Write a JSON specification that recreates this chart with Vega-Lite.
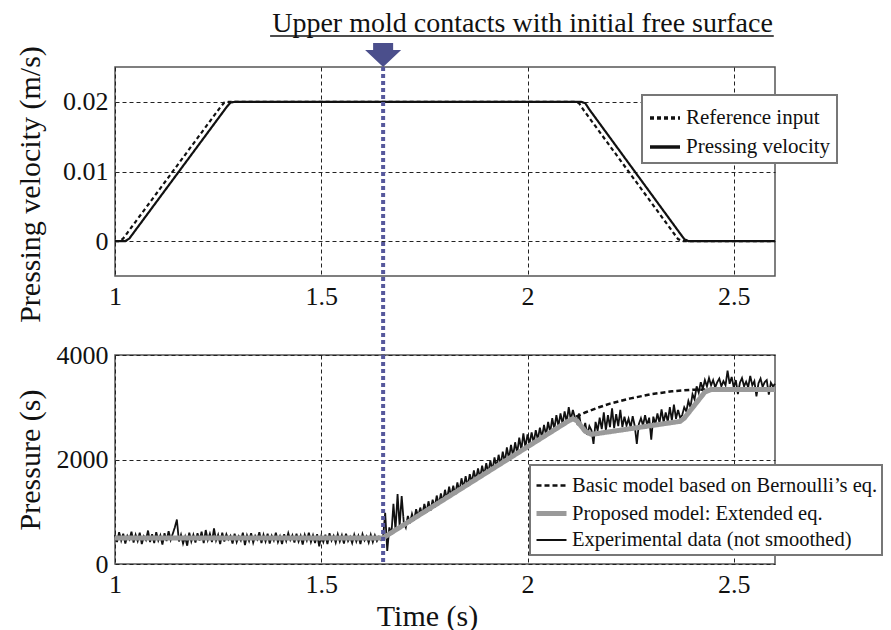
{
"$schema": "https://vega.github.io/schema/vega-lite/v6.json",
"background": "white",
"padding": {"left": 14, "top": 9, "right": 0, "bottom": 0},
"bounds": "flush",
"spacing": 79,
"config": {
  "font": "Liberation Serif",
  "view": {"stroke": "#555", "strokeWidth": 1.5},
  "axis": {"labelFont": "Liberation Serif", "labelFontSize": 26, "labelColor": "#111", "titleFont": "Liberation Serif", "titleFontSize": 30, "titleFontWeight": "normal", "titleColor": "#111", "domain": false, "ticks": false, "grid": true, "gridColor": "#222", "gridDash": [4, 3], "gridWidth": 1, "gridOpacity": 1, "labelPadding": 7, "labelFlush": false, "labelOverlap": false},
  "legend": {"labelFont": "Liberation Serif", "labelColor": "#111", "labelLimit": 0, "strokeColor": "#777", "strokeWidth": 2, "fillColor": "white"}
},
"datasets": {
  "vel": [
    {"s": "Reference input", "t": 1.0, "v": 0}, {"s": "Reference input", "t": 1.012, "v": 0}, {"s": "Reference input", "t": 1.02, "v": 0.0004}, {"s": "Reference input", "t": 1.03, "v": 0.0012}, {"s": "Reference input", "t": 1.255, "v": 0.0192}, {"s": "Reference input", "t": 1.265, "v": 0.0199}, {"s": "Reference input", "t": 1.275, "v": 0.02}, {"s": "Reference input", "t": 2.115, "v": 0.02}, {"s": "Reference input", "t": 2.125, "v": 0.0198}, {"s": "Reference input", "t": 2.135, "v": 0.0189}, {"s": "Reference input", "t": 2.355, "v": 0.0011}, {"s": "Reference input", "t": 2.365, "v": 0.0003}, {"s": "Reference input", "t": 2.375, "v": 0}, {"s": "Reference input", "t": 2.6, "v": 0},
    {"s": "Pressing velocity", "t": 1.0, "v": 0}, {"s": "Pressing velocity", "t": 1.025, "v": 0}, {"s": "Pressing velocity", "t": 1.035, "v": 0.0004}, {"s": "Pressing velocity", "t": 1.045, "v": 0.0012}, {"s": "Pressing velocity", "t": 1.27, "v": 0.0192}, {"s": "Pressing velocity", "t": 1.28, "v": 0.0199}, {"s": "Pressing velocity", "t": 1.29, "v": 0.02}, {"s": "Pressing velocity", "t": 2.13, "v": 0.02}, {"s": "Pressing velocity", "t": 2.14, "v": 0.0198}, {"s": "Pressing velocity", "t": 2.15, "v": 0.0189}, {"s": "Pressing velocity", "t": 2.37, "v": 0.0011}, {"s": "Pressing velocity", "t": 2.38, "v": 0.0003}, {"s": "Pressing velocity", "t": 2.39, "v": 0}, {"s": "Pressing velocity", "t": 2.6, "v": 0}
  ],
  "models": [
    {"m": "p", "t": 1.0, "p": 500}, {"m": "p", "t": 1.65, "p": 500}, {"m": "p", "t": 2.1, "p": 2740}, {"m": "p", "t": 2.11, "p": 2780}, {"m": "p", "t": 2.12, "p": 2740}, {"m": "p", "t": 2.14, "p": 2540}, {"m": "p", "t": 2.155, "p": 2480}, {"m": "p", "t": 2.37, "p": 2730}, {"m": "p", "t": 2.38, "p": 2790}, {"m": "p", "t": 2.43, "p": 3290}, {"m": "p", "t": 2.445, "p": 3340}, {"m": "p", "t": 2.6, "p": 3340},
    {"m": "b", "t": 1.0, "p": 500}, {"m": "b", "t": 1.65, "p": 500}, {"m": "b", "t": 2.11, "p": 2790}, {"m": "b", "t": 2.14, "p": 2900}, {"m": "b", "t": 2.17, "p": 2990}, {"m": "b", "t": 2.2, "p": 3070}, {"m": "b", "t": 2.25, "p": 3170}, {"m": "b", "t": 2.3, "p": 3250}, {"m": "b", "t": 2.35, "p": 3305}, {"m": "b", "t": 2.4, "p": 3335}, {"m": "b", "t": 2.45, "p": 3340}, {"m": "b", "t": 2.6, "p": 3340}
  ],
  "notes": [{"t": 1.65}],
  "exp": [
    {"m":"e","t":1.000,"p":560},{"m":"e","t":1.005,"p":420},{"m":"e","t":1.010,"p":610},{"m":"e","t":1.015,"p":450},{"m":"e","t":1.020,"p":580},{"m":"e","t":1.025,"p":390},{"m":"e","t":1.030,"p":540},{"m":"e","t":1.035,"p":470},{"m":"e","t":1.040,"p":620},{"m":"e","t":1.045,"p":410},
    {"m":"e","t":1.050,"p":560},{"m":"e","t":1.055,"p":440},{"m":"e","t":1.060,"p":600},{"m":"e","t":1.065,"p":380},{"m":"e","t":1.070,"p":530},{"m":"e","t":1.075,"p":460},{"m":"e","t":1.080,"p":640},{"m":"e","t":1.085,"p":420},{"m":"e","t":1.090,"p":570},{"m":"e","t":1.095,"p":400},
    {"m":"e","t":1.100,"p":610},{"m":"e","t":1.105,"p":450},{"m":"e","t":1.110,"p":550},{"m":"e","t":1.115,"p":370},{"m":"e","t":1.120,"p":590},{"m":"e","t":1.125,"p":440},{"m":"e","t":1.130,"p":630},{"m":"e","t":1.135,"p":460},{"m":"e","t":1.140,"p":580},{"m":"e","t":1.145,"p":700},
    {"m":"e","t":1.150,"p":850},{"m":"e","t":1.155,"p":430},{"m":"e","t":1.160,"p":560},{"m":"e","t":1.165,"p":390},{"m":"e","t":1.170,"p":520},{"m":"e","t":1.175,"p":350},{"m":"e","t":1.180,"p":600},{"m":"e","t":1.185,"p":430},{"m":"e","t":1.190,"p":560},{"m":"e","t":1.195,"p":410},
    {"m":"e","t":1.200,"p":590},{"m":"e","t":1.205,"p":450},{"m":"e","t":1.210,"p":620},{"m":"e","t":1.215,"p":400},{"m":"e","t":1.220,"p":650},{"m":"e","t":1.225,"p":460},{"m":"e","t":1.230,"p":580},{"m":"e","t":1.235,"p":420},{"m":"e","t":1.240,"p":680},{"m":"e","t":1.245,"p":450},
    {"m":"e","t":1.250,"p":560},{"m":"e","t":1.255,"p":380},{"m":"e","t":1.260,"p":600},{"m":"e","t":1.265,"p":430},{"m":"e","t":1.270,"p":570},{"m":"e","t":1.275,"p":470},{"m":"e","t":1.280,"p":540},{"m":"e","t":1.285,"p":390},{"m":"e","t":1.290,"p":580},{"m":"e","t":1.295,"p":420},
    {"m":"e","t":1.300,"p":530},{"m":"e","t":1.305,"p":450},{"m":"e","t":1.310,"p":600},{"m":"e","t":1.315,"p":360},{"m":"e","t":1.320,"p":550},{"m":"e","t":1.325,"p":440},{"m":"e","t":1.330,"p":590},{"m":"e","t":1.335,"p":410},{"m":"e","t":1.340,"p":540},{"m":"e","t":1.345,"p":470},
    {"m":"e","t":1.350,"p":610},{"m":"e","t":1.355,"p":400},{"m":"e","t":1.360,"p":560},{"m":"e","t":1.365,"p":430},{"m":"e","t":1.370,"p":580},{"m":"e","t":1.375,"p":390},{"m":"e","t":1.380,"p":540},{"m":"e","t":1.385,"p":450},{"m":"e","t":1.390,"p":600},{"m":"e","t":1.395,"p":420},
    {"m":"e","t":1.400,"p":530},{"m":"e","t":1.405,"p":380},{"m":"e","t":1.410,"p":570},{"m":"e","t":1.415,"p":440},{"m":"e","t":1.420,"p":590},{"m":"e","t":1.425,"p":460},{"m":"e","t":1.430,"p":550},{"m":"e","t":1.435,"p":410},{"m":"e","t":1.440,"p":580},{"m":"e","t":1.445,"p":430},
    {"m":"e","t":1.450,"p":540},{"m":"e","t":1.455,"p":370},{"m":"e","t":1.460,"p":560},{"m":"e","t":1.465,"p":450},{"m":"e","t":1.470,"p":600},{"m":"e","t":1.475,"p":420},{"m":"e","t":1.480,"p":550},{"m":"e","t":1.485,"p":400},{"m":"e","t":1.490,"p":570},{"m":"e","t":1.495,"p":340},
    {"m":"e","t":1.500,"p":530},{"m":"e","t":1.505,"p":420},{"m":"e","t":1.510,"p":560},{"m":"e","t":1.515,"p":380},{"m":"e","t":1.520,"p":590},{"m":"e","t":1.525,"p":450},{"m":"e","t":1.530,"p":540},{"m":"e","t":1.535,"p":410},{"m":"e","t":1.540,"p":570},{"m":"e","t":1.545,"p":430},
    {"m":"e","t":1.550,"p":550},{"m":"e","t":1.555,"p":390},{"m":"e","t":1.560,"p":580},{"m":"e","t":1.565,"p":440},{"m":"e","t":1.570,"p":520},{"m":"e","t":1.575,"p":400},{"m":"e","t":1.580,"p":560},{"m":"e","t":1.585,"p":430},{"m":"e","t":1.590,"p":540},{"m":"e","t":1.595,"p":380},
    {"m":"e","t":1.600,"p":570},{"m":"e","t":1.605,"p":450},{"m":"e","t":1.610,"p":530},{"m":"e","t":1.615,"p":410},{"m":"e","t":1.620,"p":560},{"m":"e","t":1.625,"p":420},{"m":"e","t":1.630,"p":550},{"m":"e","t":1.635,"p":440},{"m":"e","t":1.640,"p":520},{"m":"e","t":1.645,"p":460},
    {"m":"e","t":1.650,"p":520},{"m":"e","t":1.655,"p":980},{"m":"e","t":1.660,"p":250},{"m":"e","t":1.665,"p":700},{"m":"e","t":1.670,"p":560},{"m":"e","t":1.675,"p":1150},{"m":"e","t":1.680,"p":650},{"m":"e","t":1.685,"p":1340},{"m":"e","t":1.690,"p":720},{"m":"e","t":1.695,"p":1300},
    {"m":"e","t":1.700,"p":800},{"m":"e","t":1.705,"p":700},{"m":"e","t":1.710,"p":920},{"m":"e","t":1.715,"p":780},{"m":"e","t":1.720,"p":960},{"m":"e","t":1.725,"p":830},{"m":"e","t":1.730,"p":1050},{"m":"e","t":1.735,"p":900},{"m":"e","t":1.740,"p":1080},{"m":"e","t":1.745,"p":940},
    {"m":"e","t":1.750,"p":1150},{"m":"e","t":1.755,"p":980},{"m":"e","t":1.760,"p":1200},{"m":"e","t":1.765,"p":1020},{"m":"e","t":1.770,"p":1230},{"m":"e","t":1.775,"p":1080},{"m":"e","t":1.780,"p":1310},{"m":"e","t":1.785,"p":1130},{"m":"e","t":1.790,"p":1350},{"m":"e","t":1.795,"p":1190},
    {"m":"e","t":1.800,"p":1420},{"m":"e","t":1.805,"p":1240},{"m":"e","t":1.810,"p":1480},{"m":"e","t":1.815,"p":1290},{"m":"e","t":1.820,"p":1500},{"m":"e","t":1.825,"p":1330},{"m":"e","t":1.830,"p":1560},{"m":"e","t":1.835,"p":1390},{"m":"e","t":1.840,"p":1640},{"m":"e","t":1.845,"p":1460},
    {"m":"e","t":1.850,"p":1680},{"m":"e","t":1.855,"p":1480},{"m":"e","t":1.860,"p":1720},{"m":"e","t":1.865,"p":1560},{"m":"e","t":1.870,"p":1790},{"m":"e","t":1.875,"p":1600},{"m":"e","t":1.880,"p":1830},{"m":"e","t":1.885,"p":1650},{"m":"e","t":1.890,"p":1880},{"m":"e","t":1.895,"p":1700},
    {"m":"e","t":1.900,"p":1930},{"m":"e","t":1.905,"p":1740},{"m":"e","t":1.910,"p":1980},{"m":"e","t":1.915,"p":1790},{"m":"e","t":1.920,"p":2040},{"m":"e","t":1.925,"p":1850},{"m":"e","t":1.930,"p":2090},{"m":"e","t":1.935,"p":1900},{"m":"e","t":1.940,"p":2150},{"m":"e","t":1.945,"p":1950},
    {"m":"e","t":1.950,"p":2230},{"m":"e","t":1.955,"p":2010},{"m":"e","t":1.960,"p":2280},{"m":"e","t":1.965,"p":2060},{"m":"e","t":1.970,"p":2330},{"m":"e","t":1.975,"p":2120},{"m":"e","t":1.980,"p":2420},{"m":"e","t":1.985,"p":2180},{"m":"e","t":1.990,"p":2500},{"m":"e","t":1.995,"p":2230},
    {"m":"e","t":2.000,"p":2480},{"m":"e","t":2.005,"p":2300},{"m":"e","t":2.010,"p":2520},{"m":"e","t":2.015,"p":2320},{"m":"e","t":2.020,"p":2560},{"m":"e","t":2.025,"p":2380},{"m":"e","t":2.030,"p":2610},{"m":"e","t":2.035,"p":2420},{"m":"e","t":2.040,"p":2660},{"m":"e","t":2.045,"p":2470},
    {"m":"e","t":2.050,"p":2720},{"m":"e","t":2.055,"p":2520},{"m":"e","t":2.060,"p":2790},{"m":"e","t":2.065,"p":2580},{"m":"e","t":2.070,"p":2850},{"m":"e","t":2.075,"p":2640},{"m":"e","t":2.080,"p":2880},{"m":"e","t":2.085,"p":2680},{"m":"e","t":2.090,"p":2920},{"m":"e","t":2.095,"p":2720},
    {"m":"e","t":2.100,"p":3000},{"m":"e","t":2.105,"p":2760},{"m":"e","t":2.110,"p":2950},{"m":"e","t":2.115,"p":2800},{"m":"e","t":2.120,"p":2700},{"m":"e","t":2.125,"p":2880},{"m":"e","t":2.130,"p":2620},{"m":"e","t":2.135,"p":2560},{"m":"e","t":2.140,"p":2700},{"m":"e","t":2.145,"p":2470},
    {"m":"e","t":2.150,"p":2640},{"m":"e","t":2.155,"p":2560},{"m":"e","t":2.160,"p":2300},{"m":"e","t":2.165,"p":2720},{"m":"e","t":2.170,"p":2550},{"m":"e","t":2.175,"p":2800},{"m":"e","t":2.180,"p":2580},{"m":"e","t":2.185,"p":2900},{"m":"e","t":2.190,"p":2560},{"m":"e","t":2.195,"p":2850},
    {"m":"e","t":2.200,"p":2620},{"m":"e","t":2.205,"p":2980},{"m":"e","t":2.210,"p":2600},{"m":"e","t":2.215,"p":2870},{"m":"e","t":2.220,"p":2640},{"m":"e","t":2.225,"p":2950},{"m":"e","t":2.230,"p":2620},{"m":"e","t":2.235,"p":2820},{"m":"e","t":2.240,"p":2650},{"m":"e","t":2.245,"p":2780},
    {"m":"e","t":2.250,"p":2610},{"m":"e","t":2.255,"p":2830},{"m":"e","t":2.260,"p":2640},{"m":"e","t":2.265,"p":2300},{"m":"e","t":2.270,"p":2680},{"m":"e","t":2.275,"p":2790},{"m":"e","t":2.280,"p":2650},{"m":"e","t":2.285,"p":2850},{"m":"e","t":2.290,"p":2660},{"m":"e","t":2.295,"p":2800},
    {"m":"e","t":2.300,"p":2380},{"m":"e","t":2.305,"p":2820},{"m":"e","t":2.310,"p":2680},{"m":"e","t":2.315,"p":2880},{"m":"e","t":2.320,"p":2700},{"m":"e","t":2.325,"p":2960},{"m":"e","t":2.330,"p":2710},{"m":"e","t":2.335,"p":2900},{"m":"e","t":2.340,"p":2720},{"m":"e","t":2.345,"p":3000},
    {"m":"e","t":2.350,"p":2750},{"m":"e","t":2.355,"p":3050},{"m":"e","t":2.360,"p":2780},{"m":"e","t":2.365,"p":2950},{"m":"e","t":2.370,"p":2800},{"m":"e","t":2.375,"p":2850},{"m":"e","t":2.380,"p":3000},{"m":"e","t":2.385,"p":2920},{"m":"e","t":2.390,"p":3120},{"m":"e","t":2.395,"p":3000},
    {"m":"e","t":2.400,"p":3250},{"m":"e","t":2.405,"p":3150},{"m":"e","t":2.410,"p":3400},{"m":"e","t":2.415,"p":3280},{"m":"e","t":2.420,"p":3480},{"m":"e","t":2.425,"p":3350},{"m":"e","t":2.430,"p":3520},{"m":"e","t":2.435,"p":3400},{"m":"e","t":2.440,"p":3560},{"m":"e","t":2.445,"p":3420},
    {"m":"e","t":2.450,"p":3520},{"m":"e","t":2.455,"p":3380},{"m":"e","t":2.460,"p":3480},{"m":"e","t":2.465,"p":3550},{"m":"e","t":2.470,"p":3400},{"m":"e","t":2.475,"p":3500},{"m":"e","t":2.480,"p":3420},{"m":"e","t":2.485,"p":3700},{"m":"e","t":2.490,"p":3450},{"m":"e","t":2.495,"p":3580},
    {"m":"e","t":2.500,"p":3380},{"m":"e","t":2.505,"p":3520},{"m":"e","t":2.510,"p":3250},{"m":"e","t":2.515,"p":3470},{"m":"e","t":2.520,"p":3560},{"m":"e","t":2.525,"p":3400},{"m":"e","t":2.530,"p":3490},{"m":"e","t":2.535,"p":3380},{"m":"e","t":2.540,"p":3600},{"m":"e","t":2.545,"p":3420},
    {"m":"e","t":2.550,"p":3500},{"m":"e","t":2.555,"p":3210},{"m":"e","t":2.560,"p":3460},{"m":"e","t":2.565,"p":3550},{"m":"e","t":2.570,"p":3390},{"m":"e","t":2.575,"p":3480},{"m":"e","t":2.580,"p":3520},{"m":"e","t":2.585,"p":3240},{"m":"e","t":2.590,"p":3470},{"m":"e","t":2.595,"p":3400},
    {"m":"e","t":2.600,"p":3450}
  ]
},
"vconcat": [
  {
    "width": 660, "height": 209,
    "layer": [
      {
        "data": {"name": "vel"},
        "mark": {"type": "line", "color": "#111", "strokeWidth": 2.2},
        "encoding": {
          "x": {"field": "t", "type": "quantitative", "scale": {"domain": [1, 2.6], "nice": false}, "axis": {"values": [1, 1.5, 2, 2.5], "format": "~g", "title": null}},
          "y": {"field": "v", "type": "quantitative", "scale": {"domain": [-0.005, 0.025], "nice": false, "zero": false}, "axis": {"values": [0, 0.01, 0.02], "format": "~g", "title": "Pressing velocity (m/s)", "titleX": -85, "titleY": 117, "titleBaseline": "middle"}},
          "strokeDash": {"field": "s", "type": "nominal", "scale": {"domain": ["Reference input", "Pressing velocity"], "range": [[4, 3], [1, 0]]},
            "legend": {"title": null, "orient": "none", "legendX": 527, "legendY": 28, "labelFontSize": 21, "symbolType": "stroke", "symbolSize": 900, "symbolStrokeWidth": 3.5, "symbolStrokeColor": "#111", "padding": 6, "rowPadding": 2, "labelOffset": 4}}
        }
      },
      {
        "data": {"name": "notes"},
        "mark": {"type": "rule", "color": "#56589c", "strokeWidth": 4, "strokeDash": [4, 3]},
        "encoding": {"x": {"field": "t", "type": "quantitative", "scale": {"domain": [1, 2.6], "nice": false}}, "y": {"datum": 0.025, "scale": {"domain": [-0.005, 0.025], "nice": false, "zero": false}}, "y2": {"datum": -0.0163}}
      },
      {
        "data": {"name": "notes"},
        "mark": {"type": "point", "shape": "M-0.556,-0.667L0.556,-0.667L0.556,-0.278L1,-0.278L0,0.667L-1,-0.278L-0.556,-0.278Z", "filled": true, "color": "#4b4f8c", "opacity": 1, "size": 1296, "strokeWidth": 0},
        "encoding": {"x": {"field": "t", "type": "quantitative", "scale": {"domain": [1, 2.6], "nice": false}}, "y": {"datum": 0.02672, "scale": {"domain": [-0.005, 0.025], "nice": false, "zero": false}}}
      },
      {
        "data": {"name": "notes"},
        "mark": {"type": "text", "font": "Liberation Serif", "fontSize": 28, "align": "center", "baseline": "alphabetic", "color": "#111"},
        "encoding": {"x": {"datum": 1.988, "scale": {"domain": [1, 2.6], "nice": false}}, "y": {"datum": 0.03002, "scale": {"domain": [-0.005, 0.025], "nice": false, "zero": false}}, "text": {"value": "Upper mold contacts with initial free surface"}}
      },
      {
        "data": {"name": "notes"},
        "mark": {"type": "rule", "color": "#111", "strokeWidth": 1.5},
        "encoding": {"x": {"datum": 1.376, "scale": {"domain": [1, 2.6], "nice": false}}, "x2": {"datum": 2.597}, "y": {"datum": 0.02945, "scale": {"domain": [-0.005, 0.025], "nice": false, "zero": false}}}
      }
    ]
  },
  {
    "width": 660, "height": 209,
    "layer": [
      {
        "layer": [
          {"data": {"name": "exp"}, "mark": {"type": "line"}},
          {"data": {"name": "models"}, "transform": [{"filter": "datum.m == 'b'"}], "mark": {"type": "line"}},
          {"data": {"name": "models"}, "transform": [{"filter": "datum.m == 'p'"}], "mark": {"type": "line"}}
        ],
        "encoding": {
          "x": {"field": "t", "type": "quantitative", "scale": {"domain": [1, 2.6], "nice": false}, "axis": {"values": [1, 1.5, 2, 2.5], "format": "~g", "title": "Time (s)", "titlePadding": 4, "titleX": 312}},
          "y": {"field": "p", "type": "quantitative", "scale": {"domain": [0, 4000], "nice": false}, "axis": {"values": [0, 2000, 4000], "format": "d", "title": "Pressure (s)", "titleX": -85, "titleBaseline": "middle"}},
          "color": {"field": "m", "type": "nominal", "scale": {"domain": ["b", "p", "e"], "range": ["#111", "#9a9a9a", "#111"]},
            "legend": {"title": null, "orient": "none", "legendX": 415, "legendY": 110, "labelFontSize": 20.5, "labelExpr": "datum.value == 'b' ? 'Basic model based on Bernoulli’s eq.' : datum.value == 'p' ? 'Proposed model: Extended eq.' : 'Experimental data (not smoothed)'", "symbolType": "stroke", "symbolSize": 900, "padding": 4, "rowPadding": 0, "labelOffset": 3}},
          "strokeDash": {"field": "m", "type": "nominal", "scale": {"domain": ["b", "p", "e"], "range": [[5, 3], [1, 0], [1, 0]]}},
          "strokeWidth": {"field": "m", "type": "nominal", "scale": {"type": "ordinal", "domain": ["b", "p", "e"], "range": [2.5, 5, 1.8]}}
        }
      },
      {
        "data": {"name": "notes"},
        "mark": {"type": "rule", "color": "#56589c", "strokeWidth": 4, "strokeDash": [4, 3]},
        "encoding": {"x": {"field": "t", "type": "quantitative", "scale": {"domain": [1, 2.6], "nice": false}}, "y": {"datum": 4000, "scale": {"domain": [0, 4000], "nice": false}}, "y2": {"datum": 0}}
      }
    ]
  }
],
"resolve": {"scale": {"x": "independent", "y": "independent", "strokeDash": "independent", "color": "independent", "strokeWidth": "independent"}, "legend": {"strokeDash": "independent", "color": "independent", "strokeWidth": "independent"}}
}
